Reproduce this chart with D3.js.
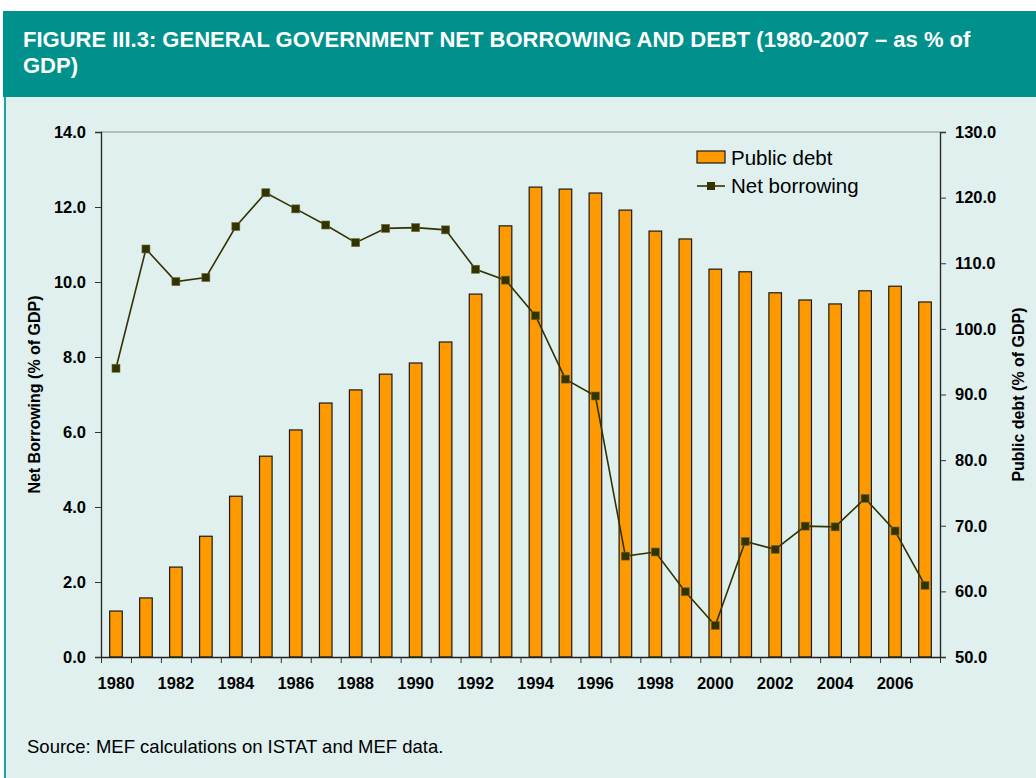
<!DOCTYPE html>
<html>
<head>
<meta charset="utf-8">
<script src="https://cdn.jsdelivr.net/npm/d3@7"></script>
<style>
  body { margin: 0; background: #fff; }
  svg { display: block; }
  .tick text { font-family: "Liberation Sans", Arial, sans-serif; font-weight: bold; font-size: 16.5px; fill: #000; }
</style>
</head>
<body>
<script>
// data
const years = ['1980','1981','1982','1983','1984','1985','1986','1987','1988','1989',
  '1990','1991','1992','1993','1994','1995','1996','1997','1998','1999',
  '2000','2001','2002','2003','2004','2005','2006','2007']
const publicDebt = [57.0, 59.0, 63.7, 68.4, 74.5, 80.6, 84.6, 88.7, 90.7, 93.1,
  94.8, 98.0, 105.3, 115.7, 121.6, 121.3, 120.7, 118.1, 114.9, 113.7,
  109.1, 108.7, 105.5, 104.4, 103.8, 105.8, 106.5, 104.1]
const netBorrowing = [7.7, 10.88, 10.01, 10.12, 11.48, 12.38, 11.95, 11.52, 11.05, 11.43,
  11.45, 11.39, 10.34, 10.05, 9.10, 7.41, 6.96, 2.69, 2.80, 1.74,
  0.84, 3.08, 2.87, 3.49, 3.47, 4.23, 3.36, 1.91]
const leftTicks = [0, 2, 4, 6, 8, 10, 12, 14]
const rightTicks = [50, 60, 70, 80, 90, 100, 110, 120, 130]
const yearLabels = years.filter((d, i) => i % 2 === 0)

const W = 1036, H = 778
const font = '"Liberation Sans", Arial, sans-serif'
const plot = {left: 101, right: 940, top: 132, bottom: 657}

const svg = d3.select('body').append('svg').attr('width', W).attr('height', H)

// panel + header
svg.append('rect').attr('x', 5).attr('y', 97).attr('width', W - 5).attr('height', H - 97).attr('fill', '#dff0ef')
svg.append('rect').attr('x', 4).attr('y', 97).attr('width', 2).attr('height', H - 97).attr('fill', '#1aa6a0')
svg.append('rect').attr('x', 3).attr('y', 11).attr('width', W - 3).attr('height', 86).attr('fill', '#00918c')

const title = svg.append('text').attr('fill', '#fff')
  .style('font-family', font).style('font-weight', 'bold').style('font-size', '22px')
title.append('tspan').attr('x', 23).attr('y', 47).text('FIGURE III.3: GENERAL GOVERNMENT NET BORROWING AND DEBT (1980-2007 \u2013 as % of')
title.append('tspan').attr('x', 23).attr('y', 73).text('GDP)')

// scales
const x = d3.scaleBand().domain(years).range([plot.left, plot.right]).paddingInner(0.58).paddingOuter(0.29)
const xEdge = d3.scaleLinear().domain([0, years.length]).range([plot.left, plot.right])
const yL = d3.scaleLinear().domain([0, 14]).range([plot.bottom, plot.top])
const yR = d3.scaleLinear().domain([50, 130]).range([plot.bottom, plot.top])

// top border
svg.append('line').attr('x1', plot.left).attr('x2', plot.right).attr('y1', plot.top).attr('y2', plot.top)
  .attr('stroke', '#888').attr('stroke-width', 1)

// bars
svg.append('g').selectAll('rect').data(years).join('rect')
  .attr('x', d => x(d))
  .attr('y', (d, i) => yR(publicDebt[i]))
  .attr('width', x.bandwidth())
  .attr('height', (d, i) => plot.bottom - yR(publicDebt[i]))
  .attr('fill', '#ff9900').attr('stroke', '#1a1a1a').attr('stroke-width', 1.2)

// axes
const axL = svg.append('g').attr('transform', `translate(${plot.left},0)`)
  .call(d3.axisLeft(yL).tickValues(leftTicks).tickFormat(d3.format('.1f')).tickSize(6).tickPadding(9))
const axR = svg.append('g').attr('transform', `translate(${plot.right},0)`)
  .call(d3.axisRight(yR).tickValues(rightTicks).tickFormat(d3.format('.1f')).tickSize(6).tickPadding(9))
const axB = svg.append('g').attr('transform', `translate(0,${plot.bottom})`)
  .call(d3.axisBottom(xEdge).tickValues(d3.range(0, years.length + 1)).tickFormat('').tickSize(6).tickSizeOuter(0))
const axLab = svg.append('g').attr('transform', `translate(0,${plot.bottom})`)
  .call(d3.axisBottom(x).tickValues(yearLabels).tickSize(0).tickPadding(20))
axLab.select('.domain').remove()
;[axL, axR, axB].forEach(a => {
  a.select('.domain').attr('stroke', '#222').attr('stroke-width', 1.3)
  a.selectAll('.tick line').attr('stroke', '#333')
})

// net borrowing line
const line = d3.line().x((d, i) => x(years[i]) + x.bandwidth() / 2).y(d => yL(d))
svg.append('path').datum(netBorrowing).attr('d', line)
  .attr('fill', 'none').attr('stroke', '#333300').attr('stroke-width', 1.6)
svg.append('g').selectAll('rect').data(netBorrowing).join('rect')
  .attr('x', (d, i) => x(years[i]) + x.bandwidth() / 2 - 4)
  .attr('y', d => yL(d) - 4)
  .attr('width', 8).attr('height', 8)
  .attr('fill', '#333300').attr('stroke', '#6b6b3a').attr('stroke-width', 0.6)

// axis titles
svg.append('text').attr('transform', `translate(40,${(plot.top + plot.bottom) / 2}) rotate(-90)`)
  .attr('text-anchor', 'middle').style('font-family', font).style('font-weight', 'bold').style('font-size', '16px')
  .text('Net Borrowing (% of GDP)')
svg.append('text').attr('transform', `translate(1024,${(plot.top + plot.bottom) / 2}) rotate(-90)`)
  .attr('text-anchor', 'middle').style('font-family', font).style('font-weight', 'bold').style('font-size', '16px')
  .text('Public debt (% of GDP)')

// legend
const lg = svg.append('g').attr('transform', 'translate(697,151)')
lg.append('rect').attr('x', 0).attr('y', 0).attr('width', 28).attr('height', 12)
  .attr('fill', '#ff9900').attr('stroke', '#1a1a1a').attr('stroke-width', 1.2)
lg.append('text').attr('x', 34).attr('y', 14).style('font-family', font).style('font-size', '20.5px').text('Public debt')
lg.append('line').attr('x1', 0).attr('x2', 28).attr('y1', 35).attr('y2', 35).attr('stroke', '#333300').attr('stroke-width', 1.6)
lg.append('rect').attr('x', 10).attr('y', 31).attr('width', 8).attr('height', 8).attr('fill', '#333300')
lg.append('text').attr('x', 34).attr('y', 42).style('font-family', font).style('font-size', '20.5px').text('Net borrowing')

// source
svg.append('text').attr('x', 27).attr('y', 753).style('font-family', font).style('font-size', '18.5px')
  .text('Source: MEF calculations on ISTAT and MEF data.')
</script>
</body>
</html>
